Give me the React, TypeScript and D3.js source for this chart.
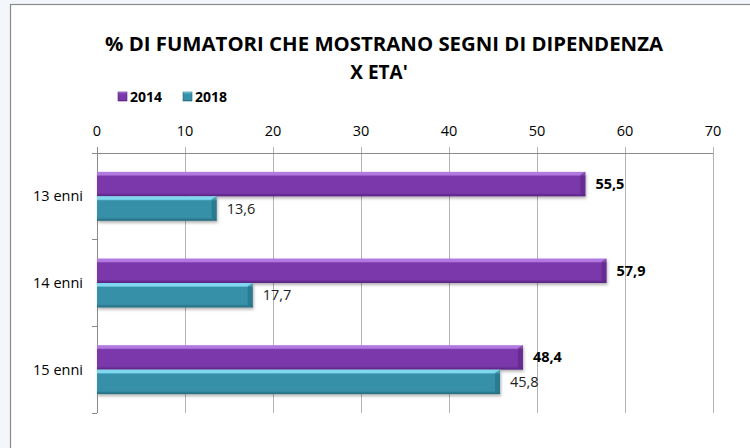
import React from 'react';
import * as d3 from 'd3';

const categories = ['13 enni', '14 enni', '15 enni'];
const seriesNames = ['2014', '2018'];
const values2014 = [55.5, 57.9, 48.4];
const values2018 = [13.6, 17.7, 45.8];
const xTicks = [0, 10, 20, 30, 40, 50, 60, 70];
const titleLines = ['% DI FUMATORI CHE MOSTRANO SEGNI DI DIPENDENZA', "X ETA'"];

const W = 750;
const H = 448;
const margin = { top: 153, right: 37, bottom: 35, left: 97 };
const font = "'Open Sans', 'Noto Sans', sans-serif";

const colors = {
  '2014': { top: '#b27ae0', mid: '#7a38aa', bot: '#562380' },
  '2018': { top: '#7fd8ef', mid: '#3690a8', bot: '#236a7c' }
};

const fmt = (v: number) => v.toFixed(1).replace('.', ',');

export default function App() {
  const x = d3.scaleLinear().domain([0, 70]).range([margin.left, W - margin.right]);
  const y = d3.scaleBand().domain(categories).range([margin.top, H - margin.bottom]);
  const inner = d3.scaleBand().domain(seriesNames).range([0, y.bandwidth()]).paddingOuter(0.77);

  const rows = categories.map((c, i) => ({ cat: c, vals: [values2014[i], values2018[i]] }));
  const plotTop = margin.top;
  const plotBottom = H - margin.bottom;

  return (
    <div style={{ position: 'absolute', left: 0, top: 0 }}>
      <svg width={W} height={H} style={{ display: 'block' }}>
        <defs>
          {seriesNames.map((s) => (
            <linearGradient key={s} id={'g' + s} x1="0" y1="0" x2="0" y2="1">
              <stop offset="0" stopColor={colors[s].top} />
              <stop offset="0.12" stopColor={colors[s].top} />
              <stop offset="0.18" stopColor={colors[s].mid} />
              <stop offset="0.86" stopColor={colors[s].mid} />
              <stop offset="1" stopColor={colors[s].bot} />
            </linearGradient>
          ))}
          <filter id="sh" x="-5%" y="-20%" width="110%" height="160%">
            <feDropShadow dx="1" dy="2" stdDeviation="1.5" floodColor="#000" floodOpacity="0.3" />
          </filter>
        </defs>
        <rect width={W} height={H} fill="#f3f7fc" />
        <rect x={10.5} y={4.5} width={800} height={600} fill="#fff" stroke="#8a8a8a" strokeWidth={1.2} />

        {titleLines.map((t, i) => (
          <text key={i} x={i === 0 ? 384 : 379} y={51 + i * 28} textAnchor="middle"
            fontFamily={font} fontWeight="bold" fontSize={19} fill="#000"
            textLength={i === 0 ? 558 : undefined} lengthAdjust="spacingAndGlyphs">{t}</text>
        ))}

        {/* legend */}
        {seriesNames.map((s, i) => {
          const lx = 118 + i * 65;
          return (
            <g key={s}>
              <rect x={lx} y={92} width={9} height={9} fill={`url(#g${s})`} stroke={colors[s].bot} strokeWidth={0.6} />
              <text x={lx + 12} y={102} fontFamily={font} fontWeight="bold" fontSize={14} fill="#000">{s}</text>
            </g>
          );
        })}

        {/* gridlines */}
        {xTicks.map((t) => (
          <line key={t} x1={x(t)} x2={x(t)} y1={plotTop - 6} y2={plotBottom}
            stroke={t === 0 ? '#8a8a8a' : '#b4b4b4'} strokeWidth={1} shapeRendering="crispEdges" />
        ))}
        <line x1={x(0)} x2={x(70)} y1={plotTop} y2={plotTop} stroke="#8a8a8a" shapeRendering="crispEdges" />
        {xTicks.map((t) => (
          <text key={'l' + t} x={x(t)} y={plotTop - 17} textAnchor="middle" fontFamily={font} fontSize={14.5} fill="#000">{t}</text>
        ))}

        {/* category ticks */}
        {[...categories.map((c) => y(c) as number), plotBottom].map((v, i) => (
          <line key={'ct' + i} x1={x(0) - 5} x2={x(0)} y1={v} y2={v} stroke="#8a8a8a" shapeRendering="crispEdges" />
        ))}

        {rows.map((r) => (
          <g key={r.cat}>
            <text x={x(0) - 14} y={(y(r.cat) as number) + y.bandwidth() / 2 + 5} textAnchor="end"
              fontFamily={font} fontSize={14.5} fill="#000">{r.cat}</text>
            {seriesNames.map((s, j) => {
              const by = (y(r.cat) as number) + (inner(s) as number);
              const bh = inner.bandwidth();
              const bw = x(r.vals[j]) - x(0);
              return (
                <g key={s}>
                  <rect x={x(0)} y={by} width={bw} height={bh} fill={`url(#g${s})`} filter="url(#sh)" />
                  <polygon points={`${x(0) + bw - 5},${by + 3} ${x(0) + bw},${by} ${x(0) + bw},${by + bh} ${x(0) + bw - 5},${by + bh - 3}`}
                    fill={colors[s].bot} opacity={0.55} />
                  <text x={x(r.vals[j]) + 10} y={by + bh / 2 + 5} fontFamily={font}
                    fontWeight={j === 0 ? 'bold' : 'normal'} fontSize={14.5} fill={j === 0 ? '#000' : '#222'}>{fmt(r.vals[j])}</text>
                </g>
              );
            })}
          </g>
        ))}
      </svg>
    </div>
  );
}
